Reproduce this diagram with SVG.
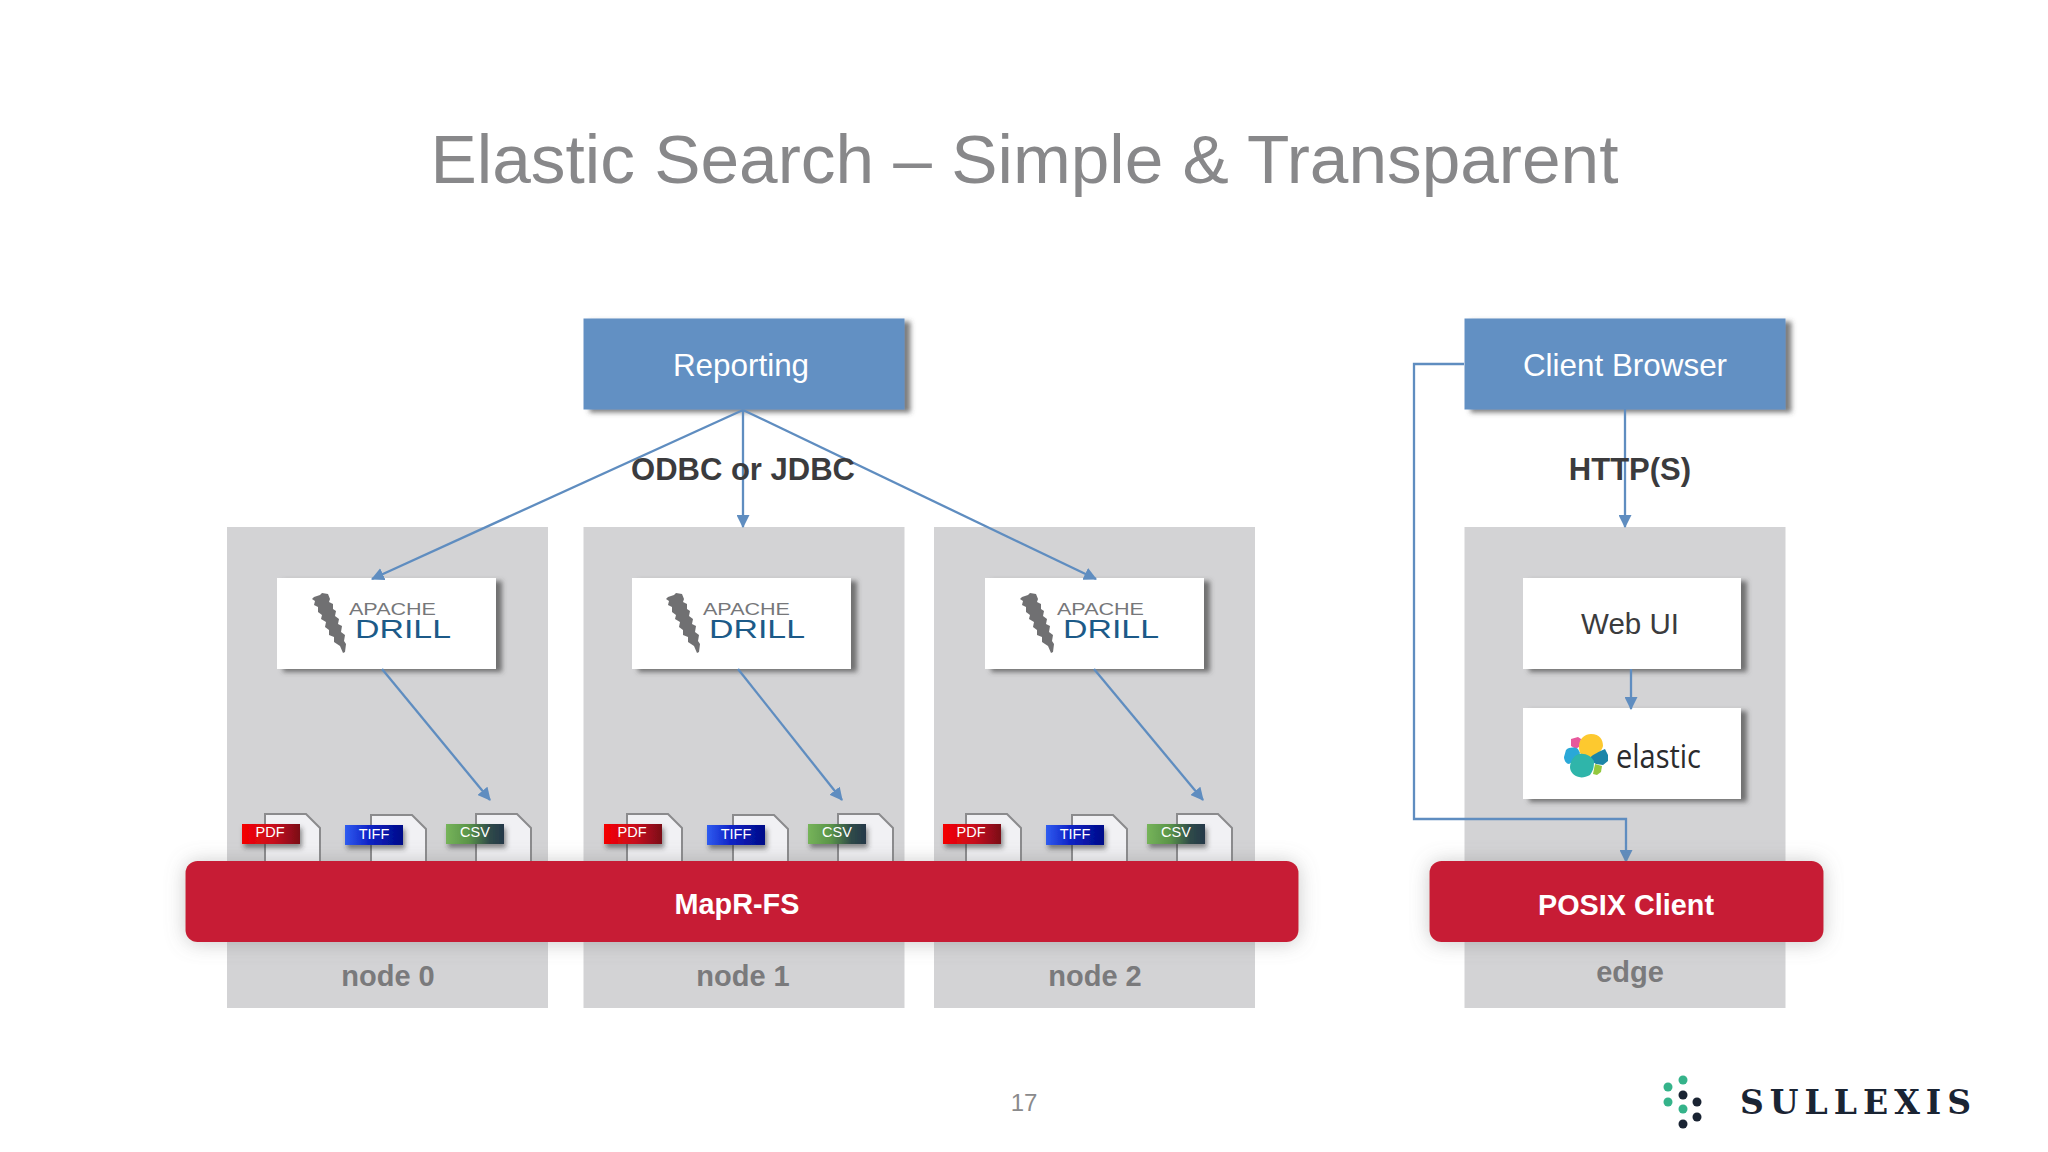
<svg xmlns="http://www.w3.org/2000/svg" xmlns:xlink="http://www.w3.org/1999/xlink" width="2048" height="1152" viewBox="0 0 2048 1152">
<style>
text{font-family:"Liberation Sans",Arial,sans-serif}
.panel{fill:#d3d3d5}
.box{fill:#fff;filter:url(#sh)}
.blue{fill:#6290c3;filter:url(#sh)}
.red{fill:#c71f34;filter:url(#glow)}
.c{fill:none;stroke:#5f8dc0;stroke-width:2.3}
.lbl{font-size:29px;fill:#7a7a7c;font-weight:700;text-anchor:middle}
.bl{font-size:31.4px;fill:#fff;text-anchor:middle}
.rl{font-size:28.8px;fill:#fff;font-weight:700;text-anchor:middle}
.proto{font-size:31px;fill:#3b3b3d;font-weight:700;text-anchor:middle}
.page{fill:#f1f1f4;stroke:#8b8b8d;stroke-width:2}
.ft{font-size:14.5px;fill:#fff;text-anchor:middle}
.tag{filter:url(#tsh)}
.ap{font-size:17px;fill:#76777a}
.dr{font-size:26px;fill:#1c5a88}
.screw{fill:#707072}
</style>
<defs>
<filter id="sh" x="-10%" y="-15%" width="125%" height="140%"><feDropShadow dx="6" dy="3" stdDeviation="2.5" flood-color="#444" flood-opacity=".7"/></filter>
<filter id="glow" x="-5%" y="-40%" width="110%" height="180%"><feDropShadow dx="0" dy="1" stdDeviation="10" flood-color="#777" flood-opacity=".4"/></filter>
<filter id="tsh" x="-20%" y="-30%" width="140%" height="190%"><feDropShadow dx="2" dy="4" stdDeviation="2.5" flood-color="#333" flood-opacity=".55"/></filter>
<marker id="a" viewBox="0 0 12 12" refX="11" refY="6" markerUnits="userSpaceOnUse" markerWidth="13" markerHeight="13" orient="auto"><path d="M0 0L12 6L0 12Z" fill="#5f8dc0"/></marker>
<linearGradient id="gp"><stop offset="0" stop-color="#f50000"/><stop offset=".55" stop-color="#c80f1e"/><stop offset="1" stop-color="#7a0a18"/></linearGradient>
<linearGradient id="gt"><stop offset="0" stop-color="#2f5cf0"/><stop offset=".4" stop-color="#1024c8"/><stop offset="1" stop-color="#000a88"/></linearGradient>
<linearGradient id="gc"><stop offset="0" stop-color="#76b45a"/><stop offset=".4" stop-color="#5a9448"/><stop offset=".75" stop-color="#2f4a48"/><stop offset="1" stop-color="#25384a"/></linearGradient>
<g id="files">
<path class="page" d="M0 -10H41L55 4V47H0Z" transform="translate(23 0)"/>
<path class="page" d="M0 -10H41L55 4V47H0Z" transform="translate(129 1)"/>
<path class="page" d="M0 -10H41L55 4V47H0Z" transform="translate(234 0)"/>
<rect class="tag" x="0" y="0" width="58" height="20" fill="url(#gp)"/>
<text class="ft" x="28" y="13">PDF</text>
<rect class="tag" x="103" y="1" width="58" height="20" fill="url(#gt)"/>
<text class="ft" x="132" y="15">TIFF</text>
<rect class="tag" x="204" y="0" width="58" height="20" fill="url(#gc)"/>
<text class="ft" x="233" y="13">CSV</text>
</g>
<g id="drill">
<path class="screw" d="M314 597l6-2 2-2 6 1 2 5-1 3 4 2 0 5 3 2-1 5 4 3-1 5 4 2-1 6 4 3-1 6 2 3-1 8-2 1-3-7-6-4 0-5-5-2 0-5-4-3 1-5-5-3 1-4-4-3 0-5-4-2 1-4-3-2z"/>
<text class="ap" x="349" y="615" textLength="87" lengthAdjust="spacingAndGlyphs">APACHE</text>
<text class="dr" x="355" y="638" textLength="96" lengthAdjust="spacingAndGlyphs">DRILL</text>
</g>
</defs>
<rect width="2048" height="1152" fill="#fff"/>
<text id="title" x="1024.500" y="183" font-size="69.400" fill="#88888a" text-anchor="middle">Elastic Search – Simple &amp; Transparent</text>
<g id="node-0"><rect class="panel" x="227" y="527" width="321" height="481"/><text class="lbl" x="388" y="986">node 0</text></g>
<g id="node-1"><rect class="panel" x="583.500" y="527" width="321" height="481"/><text class="lbl" x="743" y="986">node 1</text></g>
<g id="node-2"><rect class="panel" x="934" y="527" width="321" height="481"/><text class="lbl" x="1095" y="986">node 2</text></g>
<g id="edge"><rect class="panel" x="1464.500" y="527" width="321" height="481"/><text class="lbl" x="1630" y="982">edge</text></g>
<g id="reporting"><rect class="blue" x="583.500" y="318.500" width="321" height="91"/><text class="bl" x="741" y="376">Reporting</text></g>
<g id="client-browser"><rect class="blue" x="1464.500" y="318.500" width="321" height="91"/><text class="bl" x="1625" y="376">Client Browser</text></g>
<g id="drill-0"><rect class="box" x="277" y="578" width="219" height="91"/><use xlink:href="#drill"/></g>
<g id="drill-1"><rect class="box" x="632" y="578" width="219" height="91"/><use xlink:href="#drill" x="354"/></g>
<g id="drill-2"><rect class="box" x="985" y="578" width="219" height="91"/><use xlink:href="#drill" x="708"/></g>
<g id="web-ui"><rect class="box" x="1523" y="578" width="218" height="91"/><text x="1630" y="634" font-size="29.500" fill="#3b3b3d" text-anchor="middle">Web UI</text></g>
<g id="elastic"><rect class="box" x="1523" y="708" width="218" height="91"/>
<path fill="#e8589c" d="M1571 739l7-2 3 2-1 7-4 3-5-3z"/>
<path fill="#fdc92f" d="M1591 734c9 0 12 6 12 12-1 6-8 9-13 12l-6-1c-5-3-5-8-5-12 1-7 6-11 12-11z"/>
<path fill="#2aa8d8" d="M1566 750c3-3 9-3 12-1l2 4-3 6-8 5c-3 0-5-4-5-7z"/>
<path fill="#1c85a8" d="M1605 749l3 6 0 6-5 4-7-1-5-3-1-3c3-4 9-6 15-9z"/>
<path fill="#2fb5aa" d="M1579 754c7-1 12 2 15 7 0 7-1 10-4 14-4 2-8 3-11 2-5-1-9-5-9-10s4-12 9-13z"/>
<path fill="#93c83e" d="M1595 764l7 2-1 6-4 3-4-1 1-5z"/>
<text x="1616" y="768" font-size="33" fill="#2b2b2d" style="font-family:'Open Sans',sans-serif" textLength="85" lengthAdjust="spacingAndGlyphs">elastic</text></g>
<g id="files-0"><use xlink:href="#files" x="242" y="824"/></g>
<g id="files-1"><use xlink:href="#files" x="604" y="824"/></g>
<g id="files-2"><use xlink:href="#files" x="943" y="824"/></g>
<g id="connectors">
<path class="c" marker-end="url(#a)" d="M743 410L372 579"/>
<path class="c" marker-end="url(#a)" d="M743 410V527"/>
<path class="c" marker-end="url(#a)" d="M743 410L1096 579"/>
<path class="c" marker-end="url(#a)" d="M382 669L490 800"/>
<path class="c" marker-end="url(#a)" d="M738 669L842 800"/>
<path class="c" marker-end="url(#a)" d="M1094 669L1203 800"/>
<path class="c" marker-end="url(#a)" d="M1625 409V527"/>
<path class="c" marker-end="url(#a)" d="M1631 669V709"/>
<path class="c" marker-end="url(#a)" d="M1464 364H1414V819H1626V862"/>
</g>
<g id="mapr-fs"><rect class="red" x="185.500" y="861" width="1113" height="81" rx="12"/><text class="rl" x="737" y="914">MapR-FS</text></g>
<g id="posix"><rect class="red" x="1429.500" y="861" width="394" height="81" rx="12"/><text class="rl" x="1626" y="915">POSIX Client</text></g>
<text class="proto" x="743" y="480">ODBC or JDBC</text>
<text class="proto" x="1630" y="480">HTTP(S)</text>
<text x="1024" y="1111" font-size="24" fill="#8a8a8c" text-anchor="middle">17</text>
<g id="logo">
<g fill="#35b38a"><circle cx="1668" cy="1087" r="4.500"/><circle cx="1683" cy="1080" r="4.500"/><circle cx="1668" cy="1102" r="4.500"/><circle cx="1683" cy="1109" r="4.500"/></g>
<g fill="#1a2433"><circle cx="1683" cy="1095" r="4.500"/><circle cx="1697" cy="1102" r="4.500"/><circle cx="1697" cy="1117" r="4.500"/><circle cx="1683" cy="1124" r="4.500"/></g>
<text x="1740" y="1114" font-size="33" font-weight="700" fill="#1a2433" style="font-family:'DejaVu Serif',serif" textLength="231">SULLEXIS</text>
</g>
</svg>
